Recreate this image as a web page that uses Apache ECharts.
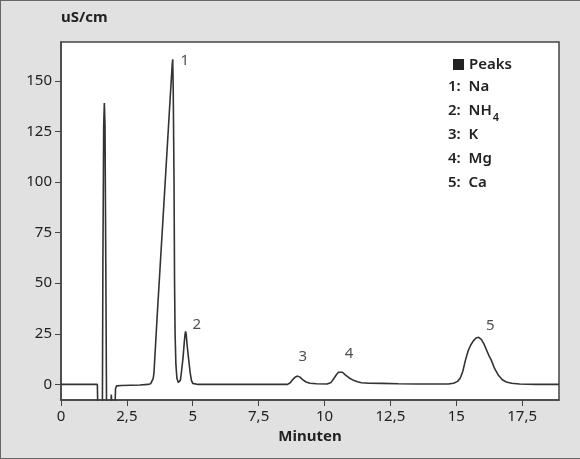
<!DOCTYPE html>
<html>
<head>
<meta charset="utf-8">
<script src="https://cdn.jsdelivr.net/npm/echarts@6/dist/echarts.min.js"></script>
<style>
  html, body { margin: 0; padding: 0; background: #e1e1e1; }
  #chart {
    width: 580px; height: 459px; box-sizing: border-box;
    border-top: 1px solid #666; border-left: 1px solid #666; border-bottom: 1px solid #666;
  }
</style>
</head>
<body>
<div id="chart"></div>
<script>
// chromatogram trace: [minutes, uS/cm]
const signal = [
  [0, 0], [1.38, 0], [1.40, -15], [1.57, -15], [1.59, 60], [1.62, 128], [1.645, 139],
  [1.67, 128], [1.70, 60], [1.73, -15], [1.87, -15], [1.91, -5], [1.94, -15],
  [2.04, -15], [2.07, -2], [2.11, -0.7], [2.3, -0.5], [3.0, -0.3], [3.3, 0],
  [3.40, 0.3], [3.45, 1], [3.50, 3], [3.53, 6], [3.66, 36],
  [3.89, 86], [4.10, 132], [4.22, 158], [4.24, 160.7], [4.26, 145], [4.29, 100],
  [4.31, 50], [4.33, 25], [4.36, 10], [4.40, 3], [4.45, 1], [4.48, 0.8],
  [4.53, 2], [4.57, 6], [4.63, 13], [4.68, 21], [4.71, 25], [4.73, 26.2], [4.75, 25],
  [4.79, 19], [4.84, 13], [4.90, 6], [4.95, 2], [5.0, 0.5], [5.2, 0],
  [8.6, 0], [8.7, 0.8], [8.8, 2.5], [8.9, 3.7], [8.98, 4.1], [9.07, 3.6], [9.17, 2.4],
  [9.3, 1.2], [9.45, 0.6], [9.7, 0.3], [10.1, 0.2],
  [10.25, 1], [10.35, 2.8], [10.45, 4.8], [10.53, 6], [10.6, 6.5], [10.68, 6],
  [10.8, 4.6], [10.94, 3.2], [11.1, 2], [11.25, 1.3], [11.4, 0.8], [11.7, 0.6],
  [12.2, 0.5], [12.8, 0.3], [13.5, 0.2], [14.5, 0.2],
  [14.7, 0.2], [14.9, 0.6], [15.05, 1.5], [15.15, 3], [15.25, 6.5], [15.35, 12],
  [15.45, 16.5], [15.55, 19.5], [15.65, 21.5], [15.75, 22.9], [15.85, 23.3], [15.95, 22.3],
  [16.05, 20], [16.15, 17], [16.25, 14], [16.33, 12], [16.45, 8], [16.6, 4.5],
  [16.75, 2.3], [16.9, 1.2], [17.1, 0.6], [17.4, 0.2], [18.0, 0], [18.9, 0]
];

// peak number labels: [minutes, uS/cm, text]
const peakLabels = [
  [4.70, 159.9, '1'],
  [5.15, 29.5, '2'],
  [9.18, 13.8, '3'],
  [10.93, 15.2, '4'],
  [16.29, 29.0, '5']
];

const xTicks = [0, 2.5, 5, 7.5, 10, 12.5, 15, 17.5];
const yTicks = [0, 25, 50, 75, 100, 125, 150];
const peakNames = ['1:  Na', '2:  NH{sub|4}', '3:  K', '4:  Mg', '5:  Ca'];

const textColor = '#222';
const font = '"Noto Sans", sans-serif';

const chart = echarts.init(document.getElementById('chart'));

chart.setOption({
  backgroundColor: '#e1e1e1',
  animation: false,
  grid: {
    left: 60, top: 41, right: 21, bottom: 58,
    show: true, backgroundColor: '#ffffff', borderColor: '#444', borderWidth: 1.5
  },
  legend: {
    left: 447, top: 51,
    icon: 'rect', itemWidth: 11, itemHeight: 11, itemGap: 8,
    data: ['Peaks'],
    textStyle: { color: textColor, fontFamily: font, fontSize: 15, fontWeight: 600 }
  },
  xAxis: {
    type: 'value', min: 0, max: 18.9,
    name: 'Minuten', nameLocation: 'middle', nameGap: 29,
    nameTextStyle: { color: textColor, fontFamily: font, fontSize: 15, fontWeight: 'bold' },
    axisLine: { onZero: false, lineStyle: { color: '#444', width: 1.5 } },
    axisTick: { length: 6, customValues: xTicks, lineStyle: { color: '#444' } },
    axisLabel: {
      customValues: xTicks, margin: 9, color: textColor, fontFamily: font, fontSize: 15,
      formatter: v => String(v).replace('.', ',')
    },
    splitLine: { show: false }
  },
  yAxis: {
    type: 'value', min: -7.7, max: 169.2,
    axisLine: { show: true, onZero: false, lineStyle: { color: '#444', width: 1.5 } },
    axisTick: { show: true, length: 6, customValues: yTicks, lineStyle: { color: '#444' } },
    axisLabel: {
      customValues: yTicks, margin: 9, color: textColor, fontFamily: font, fontSize: 15
    },
    splitLine: { show: false }
  },
  graphic: [
    {
      type: 'text', left: 60, top: 9,
      style: { text: 'uS/cm', fill: textColor, font: 'bold 15px "Noto Sans", sans-serif' }
    },
    {
      type: 'text', left: 447, top: 74,
      style: {
        text: peakNames.join('\n'),
        fill: textColor,
        font: '600 15px "Noto Sans", sans-serif',
        lineHeight: 24,
        rich: {
          sub: { fontSize: 11, fontWeight: 600, fontFamily: font, verticalAlign: 'bottom', padding: [2, 0, 0, 1], fill: textColor }
        }
      }
    }
  ],
  series: [
    {
      name: 'Peaks',
      type: 'line',
      data: signal,
      showSymbol: false,
      symbol: 'none',
      color: '#222',
      lineStyle: { color: '#333', width: 1.6 },
      itemStyle: { color: '#222' },
      clip: true
    },
    {
      type: 'scatter',
      data: peakLabels,
      symbolSize: 0,
      label: {
        show: true, position: 'inside',
        formatter: p => p.data[2],
        color: '#222', fontFamily: font, fontSize: 15, textBorderWidth: 0
      },
      silent: true
    }
  ]
});
</script>
</body>
</html>
